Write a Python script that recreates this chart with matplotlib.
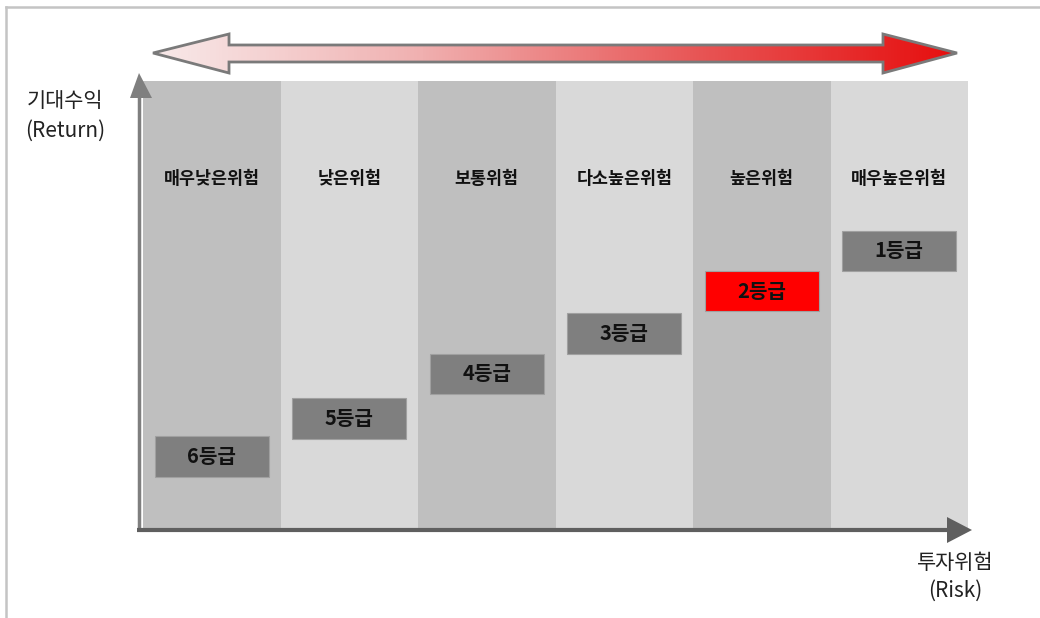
import numpy as np
import matplotlib
matplotlib.use("Agg")
import matplotlib.pyplot as plt
from matplotlib.patches import Polygon
from matplotlib.colors import LinearSegmentedColormap

plt.rcParams['font.family'] = ['Noto Sans CJK KR', 'DejaVu Sans']

# risk categories (left = lowest risk) and their grades
categories = ["매우낮은위험", "낮은위험", "보통위험", "다소높은위험", "높은위험", "매우높은위험"]
grades = ["6등급", "5등급", "4등급", "3등급", "2등급", "1등급"]
# expected return level of each grade box (0-100 scale)
return_levels = [16, 24.5, 34.5, 43.5, 53, 62]
highlight = "2등급"

col_colors = ["#bfbfbf", "#d9d9d9"]
box_h = 9

fig = plt.figure(figsize=(10.4, 6.18), dpi=100)
ax = fig.add_axes([143 / 1040, 1 - 528 / 618, 825 / 1040, 447 / 618])
x = np.arange(len(categories)) + 0.5

# background columns
ax.bar(x, 100, width=1.0, color=[col_colors[i % 2] for i in range(len(categories))],
       edgecolor="none", zorder=1)

# grade boxes
box_colors = ["#ff0000" if g == highlight else "#7f7f7f" for g in grades]
ax.bar(x, box_h, width=0.83, bottom=np.array(return_levels) - box_h / 2,
       color=box_colors, edgecolor="#a0a0a0", linewidth=0.8, zorder=2)
for xi, lvl, g in zip(x, return_levels, grades):
    ax.text(xi, lvl, g, ha="center", va="center", fontsize=14.5,
            fontweight="bold", color="#111111", zorder=3)

for xi, c in zip(x, categories):
    ax.text(xi, 78, c, ha="center", va="center", fontsize=12.5,
            fontweight="bold", color="#111111", zorder=3)

ax.set_xlim(0, len(categories))
ax.set_ylim(0, 100)
ax.axis("off")

# overlay for arrows, labels and frame (pixel coordinates)
deco = fig.add_axes([0, 0, 1, 1], zorder=5)
deco.set_xlim(0, 1040)
deco.set_ylim(618, 0)
deco.axis("off")
deco.patch.set_alpha(0)

# frame lines
deco.plot([6, 1040], [7, 7], color="#c4c4c4", lw=1.8)
deco.plot([6, 6], [7, 618], color="#c4c4c4", lw=1.8)

# y axis arrow
deco.plot([139, 139], [531, 96], color="#7f7f7f", lw=2.5, solid_capstyle="butt")
deco.add_patch(Polygon([[130, 98], [139, 73], [152, 98]], closed=True,
                       facecolor="#7f7f7f", edgecolor="none"))
# x axis arrow
deco.plot([137, 950], [530, 530], color="#5f5f5f", lw=3, solid_capstyle="butt")
deco.add_patch(Polygon([[947, 517], [972, 530], [947, 543]], closed=True,
                       facecolor="#5f5f5f", edgecolor="none"))

# gradient double arrow on top
pts = [[153, 53], [229, 34], [229, 45], [883, 45], [883, 34], [957, 53],
       [883, 73], [883, 62], [229, 62], [229, 73]]
arrow = Polygon(pts, closed=True, facecolor="none", edgecolor="#7a7a7a", lw=2, zorder=3)
deco.add_patch(arrow)
cmap = LinearSegmentedColormap.from_list("risk", ["#f8eaea", "#f0b0b0", "#e85858", "#e60e0e"])
grad = np.linspace(0, 1, 256).reshape(1, -1)
im = deco.imshow(grad, cmap=cmap, extent=[153, 957, 74, 33], aspect="auto", zorder=2)
im.set_clip_path(arrow)
deco.set_xlim(0, 1040)
deco.set_ylim(618, 0)

# axis labels
lab = dict(ha="center", va="center", fontsize=15, color="#222222")
deco.text(65, 101, "기대수익", **lab)
deco.text(65, 131, "(Return)", **lab)
deco.text(955, 563, "투자위험", **lab)
deco.text(955, 591, "(Risk)", **lab)

fig.savefig("out.png", dpi=100)
